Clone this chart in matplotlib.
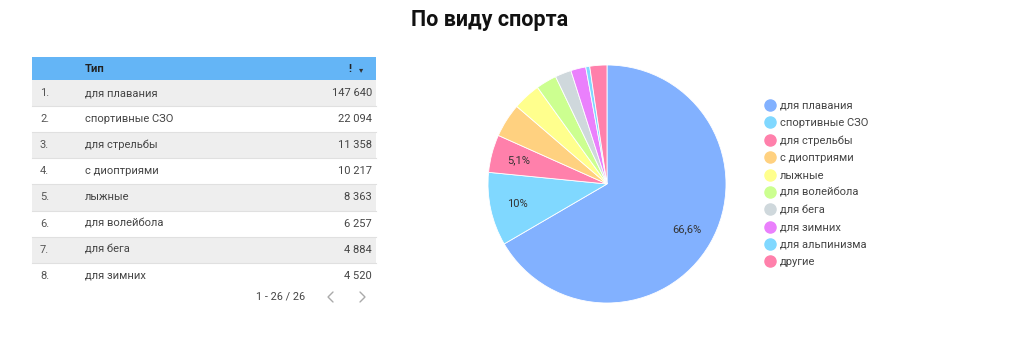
import matplotlib
matplotlib.use("Agg")
import matplotlib.pyplot as plt
from matplotlib.patches import Rectangle
from matplotlib.lines import Line2D

plt.rcParams['font.family'] = ['Roboto', 'DejaVu Sans']

# ---- data ----
title = "По виду спорта"
table_header = ["Тип", "!"]
table_ranks = ["1.", "2.", "3.", "4.", "5.", "6.", "7.", "8."]
table_names = ["для плавания", "спортивные СЗО", "для стрельбы", "с диоптриями",
               "лыжные", "для волейбола", "для бега", "для зимних"]
table_values = [147640, 22094, 11358, 10217, 8363, 6257, 4884, 4520]
pagination = "1 - 26 / 26"

pie_labels = ["для плавания", "спортивные СЗО", "для стрельбы", "с диоптриями",
              "лыжные", "для волейбола", "для бега", "для зимних",
              "для альпинизма", "другие"]
pie_values = [147640, 22094, 11358, 10217, 8363, 6257, 4884, 4520, 1200, 5150]
pie_colors = ["#82b1ff", "#80d8ff", "#ff80ab", "#ffd180", "#ffff8d",
              "#ccff90", "#cfd8dc", "#ea80fc", "#80d8ff", "#ff80ab"]

W, H = 1024, 341
fig = plt.figure(figsize=(W / 100, H / 100), dpi=100)
fig.patch.set_facecolor("white")

# ---- title ----
fig.text(490 / W, 1 - 20 / H, title, ha="center", va="center",
         fontsize=15.5, fontweight="bold", color="#111111")

# ---- table ----
axt = fig.add_axes([0, 0, 1, 1])
axt.set_xlim(0, W)
axt.set_ylim(H, 0)
axt.axis("off")

x0, x1 = 32, 376
hdr_top, hdr_bot = 57, 80
row_h = 26.1
axt.add_patch(Rectangle((x0, hdr_top), x1 - x0, hdr_bot - hdr_top,
                        facecolor="#64b5f6", edgecolor="none"))
axt.text(85, (hdr_top + hdr_bot) / 2, table_header[0], ha="left", va="center",
         fontsize=8, fontweight="bold", color="#222222")
axt.text(350, (hdr_top + hdr_bot) / 2, table_header[1], ha="center", va="center",
         fontsize=8, fontweight="bold", color="#222222")
axt.text(361, (hdr_top + hdr_bot) / 2 + 1, "▾", ha="center", va="center",
         fontsize=6, color="#333333", family=["DejaVu Sans"])


def fmt(v):
    return f"{v:,}".replace(",", " ")


for i, (r, n, v) in enumerate(zip(table_ranks, table_names, table_values)):
    top = hdr_bot + i * row_h
    fc = "#eeeeee" if i % 2 == 0 else "white"
    axt.add_patch(Rectangle((x0, top), x1 - x0, row_h, facecolor=fc,
                            edgecolor="none"))
    if i > 0:
        axt.plot([x0, x1], [top, top], color="#e0e0e0", lw=0.8)
    cy = top + row_h / 2
    axt.text(40, cy, r, ha="left", va="center", fontsize=8, color="#555555")
    axt.text(85, cy, n, ha="left", va="center", fontsize=8, color="#444444")
    axt.text(372, cy, fmt(v), ha="right", va="center", fontsize=8,
             color="#444444")

axt.text(305, 297, pagination, ha="right", va="center", fontsize=7.8,
         color="#444444")
# pagination chevrons
axt.plot([333, 328, 333], [292, 297, 302], color="#aaaaaa", lw=1.0,
         solid_capstyle="round", solid_joinstyle="miter")
axt.plot([360, 365, 360], [292, 297, 302], color="#aaaaaa", lw=1.0,
         solid_capstyle="round", solid_joinstyle="miter")

# ---- pie ----
cx, cy, R = 607, 184, 119
axp = fig.add_axes([(cx - R) / W, 1 - (cy + R) / H, 2 * R / W, 2 * R / H])


def pct(p):
    if p < 5:
        return ""
    s = f"{p:.1f}".rstrip("0").rstrip(".").replace(".", ",")
    return s + "%"


wedges, texts, autotexts = axp.pie(
    pie_values, colors=pie_colors, startangle=90, counterclock=False,
    autopct=pct, pctdistance=0.77, radius=1,
    wedgeprops=dict(linewidth=0.6, edgecolor="white"),
    textprops=dict(fontsize=8, color="#333333"))
axp.set_xlim(-1, 1)
axp.set_ylim(-1, 1)
axp.set_aspect("equal")
axp.axis("off")

# ---- legend ----
handles = [Line2D([0], [0], marker="o", linestyle="none", markersize=8,
                  markerfacecolor=c, markeredgecolor=c) for c in pie_colors]
leg = fig.legend(handles, pie_labels, loc="upper left",
                 bbox_to_anchor=(758 / W, 1 - 93 / H), frameon=False,
                 fontsize=8, labelspacing=0.66, handlelength=0.8,
                 handletextpad=0.45, borderpad=0.2)
for t in leg.get_texts():
    t.set_color("#444444")

fig.savefig("out.png", dpi=100, facecolor="white")
